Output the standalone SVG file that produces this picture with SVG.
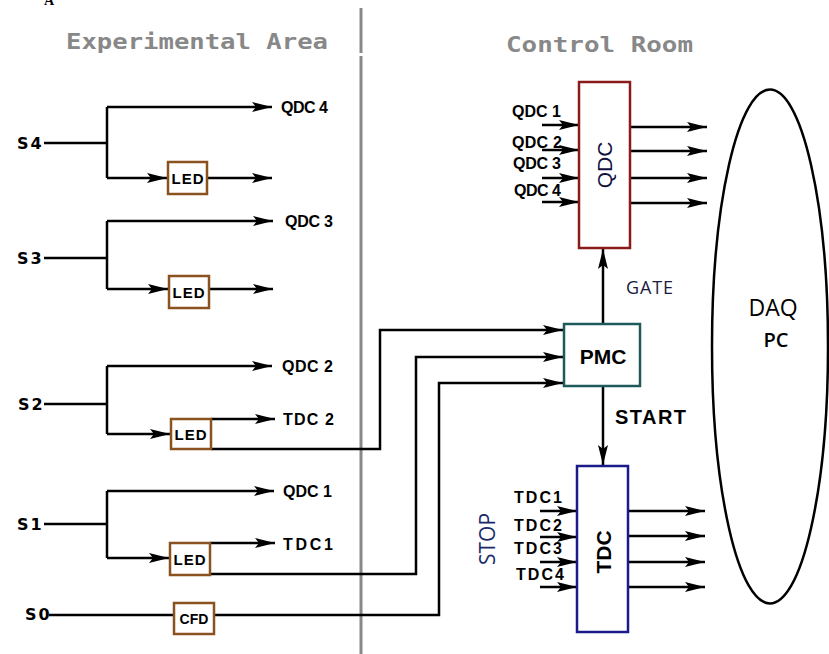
<svg xmlns="http://www.w3.org/2000/svg" width="829" height="654" viewBox="0 0 829 654">
<style>
.w{stroke:#000;stroke-width:2.5;fill:none}
.a{marker-end:url(#ah)}
.led{fill:#fff;stroke:#8b5220;stroke-width:2.5}
.sl{font-family:"DejaVu Sans",sans-serif;font-weight:bold;font-size:16px;letter-spacing:2px;fill:#000}
.lb{font-family:"Liberation Sans",Arial,sans-serif;font-weight:bold;font-size:16px;fill:#000}
.bt{font-family:"Liberation Sans",Arial,sans-serif;font-weight:bold;font-size:15px;letter-spacing:1px;fill:#000;text-anchor:middle}
.hd{font-family:"DejaVu Sans Mono",monospace;font-weight:bold;font-size:22px;fill:#888}
.os{font-family:"Open Sans","Liberation Sans",sans-serif}
</style>
<defs>
<marker id="ah" viewBox="0 -6 20 12" markerUnits="userSpaceOnUse" markerWidth="20" markerHeight="12" refX="20" refY="0" orient="auto">
<path d="M0,-5 L20,0 L0,5 L4,0 Z" fill="#000"/>
</marker>
</defs>
<rect width="829" height="654" fill="#fff"/>
<text x="44" y="5" font-family="Liberation Serif,serif" font-weight="bold" font-size="14">A</text>
<g id="divider">
<line x1="361" y1="8" x2="361" y2="53" stroke="#888" stroke-width="3"/>
<line x1="361" y1="56" x2="361" y2="654" stroke="#888" stroke-width="3"/>
</g>
<text class="hd" x="66" y="49" textLength="262" lengthAdjust="spacingAndGlyphs">Experimental Area</text>
<text class="hd" x="506" y="52" textLength="187" lengthAdjust="spacingAndGlyphs">Control Room</text>

<g id="connectors">
<path class="w" d="M44,143 H107 M107,107 V178"/>
<path class="w a" d="M107,107 H272"/>
<path class="w a" d="M107,178 H167"/>
<path class="w a" d="M207,178 H272"/>
<path class="w" d="M44,258 H107 M107,221 V289"/>
<path class="w a" d="M107,221 H273"/>
<path class="w a" d="M107,289 H168"/>
<path class="w a" d="M209,289 H273"/>
<path class="w" d="M44,404 H107 M107,366 V434"/>
<path class="w a" d="M107,366 H272"/>
<path class="w a" d="M107,434 H170"/>
<path class="w a" d="M211,419 H275"/>
<path class="w a" d="M211,449 H380 V330 H563"/>
<path class="w" d="M44,524 H107 M107,491 V558"/>
<path class="w a" d="M107,491 H274"/>
<path class="w a" d="M107,558 H169"/>
<path class="w a" d="M210,543 H275"/>
<path class="w a" d="M210,574 H416 V357 H563"/>
<path class="w" d="M49,615 H174"/>
<path class="w a" d="M214,615 H439 V383 H563"/>
<path class="w a" d="M542,125 H579"/>
<path class="w a" d="M542,150 H579"/>
<path class="w a" d="M542,178 H579"/>
<path class="w a" d="M542,202 H579"/>
<path class="w a" d="M630,127 H707"/>
<path class="w a" d="M630,151 H707"/>
<path class="w a" d="M630,178 H707"/>
<path class="w a" d="M630,203 H707"/>
<path class="w a" d="M603,324 V249"/>
<path class="w a" d="M603,386 V465"/>
<path class="w a" d="M540,511 H577"/>
<path class="w a" d="M540,537 H577"/>
<path class="w a" d="M540,562 H577"/>
<path class="w a" d="M540,587 H577"/>
<path class="w a" d="M628,511 H705"/>
<path class="w a" d="M628,536 H705"/>
<path class="w a" d="M628,562 H705"/>
<path class="w a" d="M628,587 H705"/>
</g>

<g id="S4"><text class="sl" x="17" y="149">S4</text></g>
<g id="S3"><text class="sl" x="17" y="264">S3</text></g>
<g id="S2"><text class="sl" x="18" y="410">S2</text></g>
<g id="S1"><text class="sl" x="17" y="530">S1</text></g>
<g id="S0"><text class="sl" x="25" y="620">S0</text></g>

<g id="led4"><rect class="led" x="168" y="162" width="39" height="32"/><text class="bt" x="188" y="184">LED</text></g>
<g id="led3"><rect class="led" x="169" y="276" width="40" height="32"/><text class="bt" x="189" y="298">LED</text></g>
<g id="led2"><rect class="led" x="171" y="419" width="40" height="30"/><text class="bt" x="191" y="440">LED</text></g>
<g id="led1"><rect class="led" x="170" y="543" width="40" height="32"/><text class="bt" x="190" y="565">LED</text></g>
<g id="cfd"><rect class="led" x="174" y="603" width="40" height="31"/><text class="bt" x="194" y="624" style="letter-spacing:0;font-size:14px">CFD</text></g>

<g id="left-labels">
<text class="lb" x="281" y="113" textLength="47">QDC 4</text>
<text class="lb" x="285" y="227" textLength="48">QDC 3</text>
<text class="lb" x="282" y="372" textLength="51">QDC 2</text>
<text class="lb" x="283" y="425" textLength="51">TDC 2</text>
<text class="lb" x="283" y="497" textLength="49">QDC 1</text>
<text class="lb" x="283" y="550" textLength="50">TDC1</text>
</g>

<g id="qdc">
<rect x="579" y="82" width="51" height="166" fill="#fff" stroke="#8b1a1a" stroke-width="2.5"/>
<text transform="translate(612,165) rotate(-90)" text-anchor="middle" font-family="Liberation Sans,Arial,sans-serif" font-size="21" fill="#101040">QDC</text>
<text class="lb" x="512" y="117" textLength="49">QDC 1</text>
<text class="lb" x="512" y="148" textLength="50">QDC 2</text>
<text class="lb" x="513" y="169" textLength="48">QDC 3</text>
<text class="lb" x="514" y="196" textLength="47">QDC 4</text>
</g>

<g id="pmc">
<rect x="564" y="324" width="76" height="62" fill="#fff" stroke="#1f5a5a" stroke-width="2.5"/>
<text x="603" y="364" text-anchor="middle" font-family="Liberation Sans,Arial,sans-serif" font-weight="bold" font-size="21">PMC</text>
</g>
<text class="os" x="626" y="294" font-size="18" fill="#1a1a40" textLength="47">GATE</text>
<text x="615" y="424" font-family="Liberation Sans,Arial,sans-serif" font-weight="bold" font-size="20" textLength="71">START</text>

<g id="tdc">
<rect x="577" y="466" width="51" height="166" fill="#fff" stroke="#1a1a8a" stroke-width="2.5"/>
<text transform="translate(611,552) rotate(-90)" text-anchor="middle" font-family="Liberation Sans,Arial,sans-serif" font-weight="bold" font-size="21">TDC</text>
<text class="lb" x="514" y="503" textLength="48">TDC1</text>
<text class="lb" x="514" y="531" textLength="48">TDC2</text>
<text class="lb" x="514" y="554" textLength="48">TDC3</text>
<text class="lb" x="516" y="580" textLength="48">TDC4</text>
<text class="os" transform="translate(495,539) rotate(-90)" text-anchor="middle" font-size="21" fill="#1a2a6a">STOP</text>
</g>

<g id="daq">
<ellipse cx="770" cy="346.5" rx="58" ry="257" fill="none" stroke="#000" stroke-width="2.5"/>
<text class="os" x="773" y="316" text-anchor="middle" font-size="23" fill="#000">DAQ</text>
<text class="os" x="776" y="347" text-anchor="middle" font-size="20" font-weight="600" fill="#000">PC</text>
</g>
</svg>
